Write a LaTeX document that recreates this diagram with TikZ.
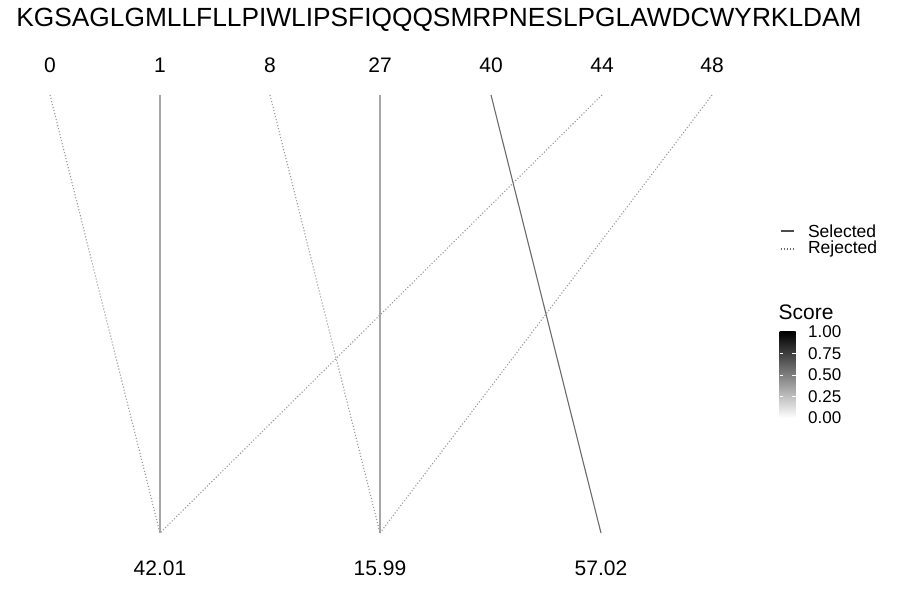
\documentclass[tikz,border=0pt]{standalone}
\usepackage{fontspec}
\setmainfont{Liberation Sans}
\begin{document}
\begin{tikzpicture}[x=1pt, y=1pt, sel/.style={line width=1.1pt}, rej/.style={line width=1.1pt, dotted, black!40},
  pos node/.style={font=\fontsize{21}{21}\selectfont, inner sep=0pt},
  key node/.style={font=\fontsize{17.5}{17.5}\selectfont, anchor=west, inner sep=0pt}]
\useasboundingbox (0,0) rectangle (900,600);
\node[inner sep=0pt, font=\fontsize{26.3}{26.3}\selectfont] (seq) at (439,580) {KGSAGLGMLLFLLPIWLIPSFIQQQSMRPNESLPGLAWDCWYRKLDAM};
\begin{scope}
\node[pos node] (p0) at (50,535) {0};
\node[pos node] (p1) at (160,535) {1};
\node[pos node] (p8) at (270,535) {8};
\node[pos node] (p27) at (380,535) {27};
\node[pos node] (p40) at (491,535) {40};
\node[pos node] (p44) at (602,535) {44};
\node[pos node] (p48) at (712,535) {48};
\node[pos node] (s1) at (160,32) {42.01};
\node[pos node] (s2) at (380,32) {15.99};
\node[pos node] (s3) at (601,32) {57.02};
\end{scope}
\coordinate (t0) at (50,505);
\coordinate (t1) at (160,505);
\coordinate (t8) at (270,505);
\coordinate (t27) at (380,505);
\coordinate (t40) at (491,505);
\coordinate (t44) at (602,505);
\coordinate (t48) at (712,505);
\coordinate (b1) at (160,67);
\coordinate (b2) at (380,67);
\coordinate (b3) at (601,67);
\begin{scope}
\draw[rej] (t0) -- (b1);
\draw[sel, black!35] (t1) -- (b1);
\draw[rej] (t8) -- (b2);
\draw[sel, black!35] (t27) -- (b2);
\draw[sel, black!58] (t40) -- (b3);
\draw[rej] (t44) -- (b1);
\draw[rej] (t48) -- (b2);
\end{scope}
% legend
\coordinate (k1) at (780.5,369);
\coordinate (k2) at (780.5,351);
\draw[sel, black!70] (k1) -- ++(13,0) node[key node, black, right=14pt] (lsel) {Selected};
\draw[line width=1.1pt, dotted, black!60] (k2) -- ++(13,0) node[key node, black, right=14pt] (lrej) {Rejected};
\node[anchor=west, inner sep=0pt, font=\fontsize{21}{21}\selectfont] (score) at (778.5,288) {Score};
\shade[bottom color=white, top color=black] (779.5,182) rectangle (795.5,268);
\foreach \v/\lab [count=\i from 0] in {0/0.00, 0.25/0.25, 0.5/0.50, 0.75/0.75, 1/1.00}
  \node[key node, font=\fontsize{17}{17}\selectfont] (tick\i) at (808,182+86*\v) {\lab};
\foreach \v in {0.25,0.5,0.75}{
  \draw[white, line width=.5pt] (779.5,182+86*\v) -- ++(3.2,0);
  \draw[white, line width=.5pt] (795.5,182+86*\v) -- ++(-3.2,0);
}
\end{tikzpicture}
\end{document}
